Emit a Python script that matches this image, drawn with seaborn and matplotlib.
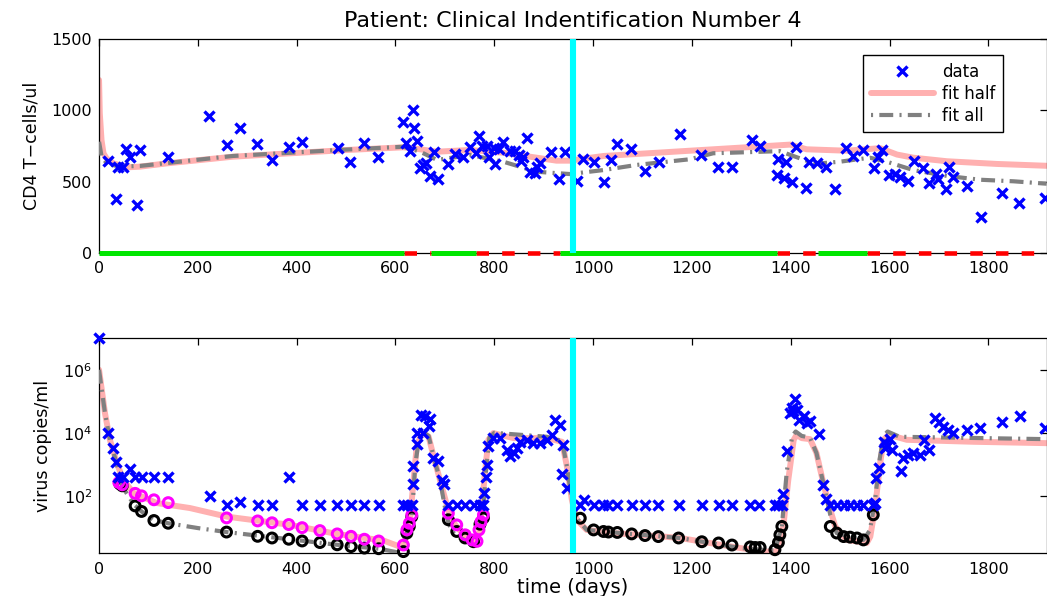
import matplotlib
matplotlib.use('Agg')
import matplotlib.pyplot as plt
import seaborn as sns
from matplotlib.lines import Line2D
from matplotlib.ticker import FixedLocator, NullLocator

# ---------------- data ----------------
title = 'Patient: Clinical Indentification Number 4'
x_ticks = [0, 200, 400, 600, 800, 1000, 1200, 1400, 1600, 1800]
cd4_ticks = [0, 500, 1000, 1500]
virus_ticks = [1e2, 1e4, 1e6]
split_day = 959
x_max = 1918

# CD4 measurements
cd4_days = [19, 34, 39, 49, 55, 63, 76, 83, 140, 223, 258, 285, 320, 350, 384, 411, 483, 508,
            537, 565, 616, 621, 630, 636, 638, 643, 650, 656, 662, 669, 677, 686, 706, 721, 736,
            750, 763, 770, 775, 785, 790, 800, 802, 810, 817, 832, 842, 849, 854, 858, 867, 872,
            883, 886, 893, 915, 930, 943, 968, 980, 1001, 1022, 1036, 1049, 1077, 1105, 1134,
            1176, 1218, 1252, 1281, 1321, 1337, 1372, 1375, 1386, 1391, 1402, 1411, 1430, 1436,
            1454, 1471, 1490, 1511, 1525, 1546, 1569, 1576, 1584, 1598, 1611, 1621, 1637, 1650,
            1667, 1679, 1694, 1699, 1714, 1721, 1728, 1756, 1785, 1827, 1862, 1915]
cd4_vals = [645, 377, 605, 605, 727, 670, 335, 722, 675, 961, 757, 879, 764, 652, 745, 780, 738, 635,
            769, 670, 921, 769, 717, 1003, 875, 785, 593, 617, 633, 539, 710, 518, 623, 694, 675,
            741, 703, 823, 750, 750, 670, 734, 623, 727, 776, 717, 717, 687, 645, 675, 808, 569,
            562, 600, 633, 706, 518, 710, 504, 659, 635, 499, 652, 764, 727, 576, 635,
            832, 687, 605, 600, 792, 752, 546, 659, 523, 640, 499, 741, 457, 640,
            628, 605, 448, 734, 680, 722, 597, 675, 722, 546, 553, 534, 506, 645,
            593, 488, 553, 516, 448, 605, 530, 469, 253, 418, 352, 387]

# CD4 model fits
cd4_half_days = [0, 1.5, 5, 9, 15, 29, 56, 83, 137, 271, 407, 501, 616, 650, 684, 751, 818, 872,
                 926, 953, 987, 1021, 1088, 1196, 1399, 1432, 1513, 1581, 1615, 1648, 1716, 1817, 1918]
cd4_half_vals = [1214, 980, 792, 699, 664, 628, 600, 605, 628, 675, 703, 722, 741, 727, 710, 722, 703, 675,
                 647, 647, 664, 680, 694, 717, 760, 727, 717, 735, 690, 668, 643, 624, 611]
cd4_all_days = [0, 5, 15, 40, 83, 271, 501, 616, 650, 684, 751, 818, 886, 953, 1021, 1088, 1196,
                1243, 1378, 1405, 1450, 1500, 1560, 1594, 1648, 1716, 1783, 1851, 1918]
cd4_all_vals = [780, 680, 630, 605, 610, 680, 725, 745, 710, 652, 687, 640, 569, 553, 581, 617, 657,
                699, 714, 680, 625, 640, 668, 640, 581, 540, 513, 502, 485]

# treatment periods (drawn on the CD4 axis at y = 0)
on_start = [0, 671, 933, 1456]
on_end = [617, 763, 1372, 1555]
off_start = [617, 763, 1372, 1555]
off_end = [671, 933, 1456, 1918]

# virus measurements
vir_days = [0, 19, 28, 34, 39, 49, 63, 73, 86, 111, 140, 224, 258, 286, 321, 350, 384, 411, 447, 482,
            510, 537, 566, 616, 623, 633, 635, 636, 643, 644, 651, 656, 660, 670, 668, 675, 687, 694,
            698, 707, 724, 741, 758, 771, 778, 779, 784, 785, 788, 798, 812, 826, 832, 839, 846, 852,
            866, 879, 893, 906, 916, 923, 933, 940, 937, 947, 974, 982, 1001, 1021, 1031, 1049, 1078,
            1105, 1132, 1173, 1220, 1254, 1281, 1318, 1335, 1368, 1375, 1382, 1384, 1392, 1399, 1402,
            1405, 1409, 1412, 1416, 1426, 1432, 1439, 1458, 1465, 1472, 1480, 1493, 1507, 1520, 1534,
            1547, 1567, 1571, 1573, 1578, 1588, 1590, 1594, 1601, 1605, 1623, 1628, 1638, 1648, 1662,
            1669, 1679, 1692, 1701, 1709, 1719, 1729, 1756, 1783, 1827, 1863, 1915]
vir_vals = [1.0e7, 9800, 3400, 1230, 400, 400, 720, 400, 400, 400, 400, 100, 50, 63, 50, 50, 400, 50, 50, 50,
            50, 50, 50, 50, 50, 50, 240, 900, 4400, 9800, 37000, 9800, 33000, 27000, 17000, 1600, 1300, 320,
            235, 50, 50, 50, 50, 50, 50, 127, 410, 960, 3700, 6800, 6800, 2900, 1800, 2300, 3200, 5200,
            6000, 4700, 4700, 6000, 8700, 25700, 17800, 4200, 500, 175, 50, 75, 50, 50, 50, 50, 50,
            50, 50, 50, 50, 50, 50, 50, 50, 50, 50, 50, 116, 2600, 42000, 60000,
            48000, 117000, 54000, 26000, 33000, 20000, 23000, 9100, 214, 79, 50, 50, 50, 50, 50,
            50, 50, 60, 360, 760, 5200, 3200, 3700, 6300, 2900, 630, 1600, 2000, 2300, 2000,
            6000, 2900, 29500, 21400, 15800, 12600, 10200, 12600, 14100, 21400, 33000, 14100]

# model values at below-detection times: fit on first half (magenta) and on all data (black)
half_days = [40, 47, 73, 86, 111, 140, 258, 321, 350, 384, 411, 447, 482, 510, 537, 566,
             616, 623, 628, 633, 707, 724, 741, 755, 765, 769, 773, 778]
half_vals = [265, 224, 120, 100, 75, 61, 20, 16, 14, 12.3, 9.8, 7.9, 6.2, 5.2, 4.2, 3.7,
             2.75, 8.3, 13.5, 25, 28, 12, 5.8, 4.0, 3.6, 8.3, 15, 25]
all_days = [42, 47, 73, 86, 111, 140, 258, 321, 350, 384, 411, 447, 482, 510, 537, 566,
            616, 623, 628, 633, 707, 724, 741, 758, 771, 778, 974, 1001, 1021, 1031, 1049, 1078,
            1105, 1132, 1173, 1220, 1254, 1281, 1318, 1328, 1338, 1368, 1375, 1378, 1382,
            1480, 1493, 1507, 1520, 1534, 1547, 1567]
all_vals = [240, 208, 48, 32, 16.5, 13.5, 7.1, 5.2, 4.6, 4.2, 3.7, 3.3, 2.8, 2.45, 2.2, 2.1,
            1.7, 6.6, 10.7, 21.9, 17.4, 7.4, 4.6, 3.5, 12.6, 20, 19.5, 8.3, 7.4, 7.1, 6.9, 6.2,
            5.5, 5.1, 4.6, 3.5, 3.2, 2.75, 2.4, 2.3, 2.3, 1.95, 3.3, 5.8, 10.7,
            10.7, 6.6, 5.1, 4.9, 4.6, 4.0, 25]

# virus model fits
vir_half_days = [0, 12, 22, 36, 49, 70, 117, 184, 258, 387, 481, 576, 609, 618, 625, 630, 636, 643,
                 653, 660, 667, 677, 690, 704, 711, 721, 738, 754, 765, 770, 775, 781, 788, 798, 839,
                 906, 937, 947, 957, 967, 987, 1041, 1142, 1176, 1298, 1352, 1372, 1385, 1395, 1406,
                 1412, 1422, 1439, 1452, 1466, 1480, 1490, 1513, 1554, 1561, 1571, 1581, 1588, 1598,
                 1635, 1770, 1918]
vir_half_vals = [1.0e6, 4.2e4, 6.0e3, 1.1e3, 320, 123, 59, 41, 22, 12, 6.2, 3.8, 2.45, 3.0, 10, 22, 250, 3700,
                 9800, 9000, 7600, 1800, 320, 51, 22, 12, 5.8, 4.0, 3.6, 8, 46, 525, 6000, 9800, 6800,
                 6800, 5200, 850, 74, 17.4, 8.3, 6.6, 5.1, 4.6, 2.2, 1.7, 1.7, 10.7, 320, 6000,
                 8700, 6800, 6300, 2300, 250, 36, 10.7, 4.0, 3.2, 5.1, 46, 1100, 6000, 8700,
                 6000, 5200, 4700]
vir_all_days = [0, 12, 22, 36, 46, 70, 86, 111, 140, 200, 258, 385, 482, 567, 605, 616, 623, 633, 640,
                647, 655, 667, 677, 690, 704, 714, 731, 748, 760, 771, 778, 783, 790, 800, 906, 937,
                947, 957, 967, 987, 1041, 1176, 1298, 1352, 1368, 1382, 1392, 1403, 1410, 1422, 1439,
                1452, 1466, 1480, 1493, 1547, 1560, 1570, 1580, 1588, 1596, 1620, 1918]
vir_all_vals = [1.0e6, 4.2e4, 6.0e3, 1.0e3, 210, 55, 32, 17, 13.5, 9.5, 7.1, 4.2, 2.8, 2.1, 1.6, 1.7, 6.6, 22,
                1000, 5500, 10500, 8000, 1800, 320, 20, 7.4, 4.6, 3.5, 3.8, 12.6, 40, 600, 7000,
                10000, 7500, 5500, 850, 74, 19.5, 8.3, 6.9, 4.6, 2.2, 1.9, 1.9, 10.7, 600, 8000,
                11000, 8000, 7000, 2300, 250, 25, 6.6, 4.0, 8, 60, 1500, 8000, 11000, 7500, 6300]

# ---------------- style ----------------
sns.set_theme(style='white')
plt.rcParams['font.family'] = ['DejaVu Sans']
plt.rcParams['lines.scale_dashes'] = False
plt.rcParams['axes.edgecolor'] = 'black'
plt.rcParams['axes.linewidth'] = 0.9
plt.rcParams['text.color'] = 'black'
plt.rcParams['axes.labelcolor'] = 'black'
plt.rcParams['xtick.color'] = 'black'
plt.rcParams['ytick.color'] = 'black'

PINK = '#FFB0B0'
GRAY = '#808080'
BLUE = '#0000FF'
MAGENTA = '#FF00FF'
GREEN = '#00E600'
RED = '#FF0000'
CYAN = '#00FFFF'
DASHDOT = (0, (10, 4.5, 1.5, 4.5))

fig = plt.figure(figsize=(10.47, 5.96), dpi=100)
ax1 = fig.add_axes([0.0946, 0.576, 0.9051, 0.358])
ax2 = fig.add_axes([0.0946, 0.0716, 0.9051, 0.3608])

# ---------------- top: CD4 ----------------
sns.lineplot(x=cd4_half_days, y=cd4_half_vals, ax=ax1, color=PINK, linewidth=4.3,
             sort=False, estimator=None, legend=False, zorder=2)
sns.lineplot(x=cd4_all_days, y=cd4_all_vals, ax=ax1, color=GRAY, linewidth=3.0, linestyle=DASHDOT,
             sort=False, estimator=None, legend=False, zorder=3)
for s, e in zip(on_start, on_end):
    ax1.plot([s, e], [0, 0], color=GREEN, lw=3.6, solid_capstyle='butt', clip_on=False, zorder=6)
for s, e in zip(off_start, off_end):
    ax1.plot([s, e], [0, 0], color=RED, lw=3.3, linestyle=(0, (9, 9.5)), dash_capstyle='butt',
             clip_on=False, zorder=5)
sns.scatterplot(x=cd4_days, y=cd4_vals, ax=ax1, marker='x', color=BLUE, s=52, linewidth=2.4,
                legend=False, zorder=4, clip_on=False)
ax1.axvline(split_day, color=CYAN, lw=4.4, zorder=7)
ax1.set_xlim(0, x_max)
ax1.set_ylim(0, 1500)
ax1.set_xticks(x_ticks)
ax1.set_yticks(cd4_ticks)
ax1.set_ylabel('CD4 T\u2212cells/ul', fontsize=12.5, labelpad=8, color='black')
ax1.set_title(title, fontsize=16, pad=9, color='black')

handles = [Line2D([], [], marker='x', color=BLUE, ls='none', ms=7.5, mew=2.4),
           Line2D([], [], color=PINK, lw=4.3),
           Line2D([], [], color=GRAY, lw=3.0, ls=(0, (1.5, 4.5, 10, 4.5)))]
leg = ax1.legend(handles, ['data', 'fit half', 'fit all'], loc='upper right',
                 bbox_to_anchor=(0.954, 0.926), fontsize=12, frameon=True, fancybox=False,
                 edgecolor='black', framealpha=1, handlelength=3.8, labelspacing=0.25,
                 borderpad=0.45, handletextpad=0.5, borderaxespad=0)
leg.get_frame().set_linewidth(1.0)
leg.set_zorder(10)

# ---------------- bottom: virus ----------------
ax2.set_yscale('log')
sns.lineplot(x=vir_half_days, y=vir_half_vals, ax=ax2, color=PINK, linewidth=4.3,
             sort=False, estimator=None, legend=False, zorder=2)
sns.lineplot(x=vir_all_days, y=vir_all_vals, ax=ax2, color=GRAY, linewidth=3.0, linestyle=DASHDOT,
             sort=False, estimator=None, legend=False, zorder=3)
sns.scatterplot(x=all_days, y=all_vals, ax=ax2, marker='o', color='black', facecolor='none',
                edgecolor='black', s=50, linewidth=2.2, legend=False, zorder=4, clip_on=False)
sns.scatterplot(x=half_days, y=half_vals, ax=ax2, marker='o', color=MAGENTA, facecolor='none',
                edgecolor=MAGENTA, s=50, linewidth=2.2, legend=False, zorder=5, clip_on=False)
sns.scatterplot(x=vir_days, y=vir_vals, ax=ax2, marker='x', color=BLUE, s=52, linewidth=2.4,
                legend=False, zorder=6, clip_on=False)
ax2.axvline(split_day, color=CYAN, lw=4.4, zorder=7)
ax2.set_xlim(0, x_max)
ax2.set_ylim(1.5, 1e7)
ax2.set_xticks(x_ticks)
ax2.yaxis.set_major_locator(FixedLocator(virus_ticks))
ax2.yaxis.set_minor_locator(NullLocator())
ax2.set_ylabel('virus copies/ml', fontsize=12.5, labelpad=8, color='black')
ax2.set_xlabel('time (days)', fontsize=14, labelpad=1, color='black')

for ax in (ax1, ax2):
    ax.tick_params(axis='both', which='major', direction='in', top=True, right=True,
                   length=5, width=0.9, labelsize=11.5, colors='black', pad=5)
    ax.tick_params(axis='x', pad=6)
    for sp in ax.spines.values():
        sp.set_visible(True)
        sp.set_color('black')
    ax.grid(False)

fig.savefig('out.png', dpi=100)
